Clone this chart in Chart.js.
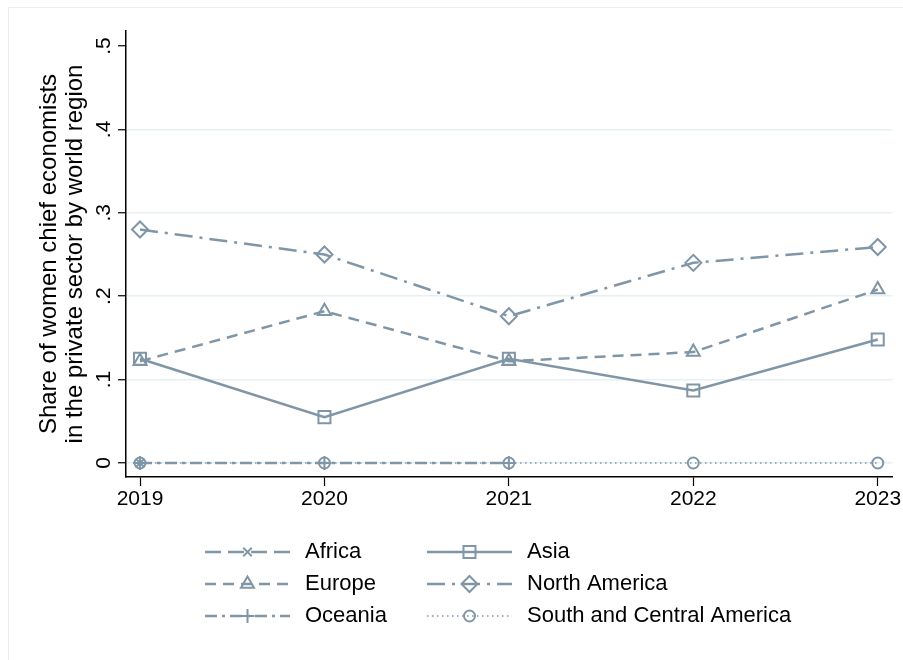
<!DOCTYPE html>
<html>
<head>
<meta charset="utf-8">
<script src="https://cdn.jsdelivr.net/npm/chart.js@4/dist/chart.umd.min.js"></script>
<style>
  html, body { margin: 0; padding: 0; background: #fff; }
  canvas { display: block; }
</style>
</head>
<body>
<canvas id="c" width="903" height="660"></canvas>
<script>
// Share of women chief economists in the private sector, by world region
const years = [2019, 2020, 2021, 2022, 2023];
const africa = [0, null, null, null, null];
const asia = [0.125, 0.055, 0.125, 0.087, 0.148];
const europe = [0.122, 0.182, 0.122, 0.133, 0.208];
const northAmerica = [0.28, 0.25, 0.176, 0.24, 0.259];
const oceania = [0, 0, 0, null, null];
const southCentralAmerica = [0, 0, 0, 0, 0];

const yTicks = [0, 0.1, 0.2, 0.3, 0.4, 0.5];
const yTickLabels = ['0', '.1', '.2', '.3', '.4', '.5'];
const yTitle = ['Share of women chief economists', 'in the private sector by world region'];

const FONT = "'Liberation Sans', Arial, Helvetica, sans-serif";
const LINE = 'rgb(128,150,166)';
const GRID = 'rgb(231,240,243)';

function points(values) {
  return years.map((x, i) => ({ x: x, y: values[i] }));
}

function series(label, values, dash, style, radius, width) {
  return {
    label: label,
    data: points(values),
    borderColor: LINE,
    borderWidth: width || 2.5,
    borderDash: dash,
    pointStyle: style,
    pointRadius: radius,
    pointHoverRadius: radius,
    pointBorderColor: LINE,
    pointBackgroundColor: 'rgba(0,0,0,0)',
    pointBorderWidth: 2,
    tension: 0,
    spanGaps: false,
    fill: false
  };
}

const datasets = [
  series('Africa', africa, [16, 7], 'crossRot', 6),
  series('Asia', asia, [], 'rect', 8.5),
  series('Europe', europe, [11, 7], 'triangle', 7.5),
  series('North America', northAmerica, [18, 7, 3, 7], 'rectRot', 8),
  series('Oceania', oceania, [12, 5, 3, 5], 'cross', 7),
  series('South and Central America', southCentralAmerica, [1.5, 3.5], 'circle', 5.5, 1.5)
];

// page background and outer frame
const framePlugin = {
  id: 'frame',
  beforeDraw(chart) {
    const ctx = chart.ctx;
    ctx.save();
    ctx.fillStyle = '#fff';
    ctx.fillRect(0, 0, chart.width, chart.height);
    ctx.strokeStyle = 'rgb(236,236,236)';
    ctx.lineWidth = 1;
    ctx.strokeRect(8.5, 7.5, 1000, 1000);
    ctx.restore();
  }
};

// two-column key under the plot: line sample, marker, label
const keyPlugin = {
  id: 'key',
  afterDraw(chart) {
    const ctx = chart.ctx;
    chart.data.datasets.forEach((ds, i) => {
      const col = i % 2;
      const row = Math.floor(i / 2);
      const x0 = col ? 427 : 205;
      const x1 = x0 + 85;
      const y = 552 + row * 32;
      ctx.save();
      ctx.strokeStyle = ds.borderColor;
      ctx.lineWidth = ds.borderWidth;
      ctx.setLineDash(ds.borderDash || []);
      ctx.beginPath();
      ctx.moveTo(x0, y);
      ctx.lineTo(x1, y);
      ctx.stroke();
      ctx.setLineDash([]);
      ctx.lineWidth = ds.pointBorderWidth;
      ctx.fillStyle = 'rgba(0,0,0,0)';
      Chart.helpers.drawPoint(ctx, {
        pointStyle: ds.pointStyle,
        radius: ds.pointRadius,
        rotation: 0,
        borderWidth: ds.pointBorderWidth
      }, (x0 + x1) / 2, y);
      ctx.fillStyle = '#000';
      ctx.font = '22px ' + FONT;
      ctx.textBaseline = 'middle';
      ctx.textAlign = 'left';
      ctx.fillText(ds.label, col ? 527 : 305, y);
      ctx.restore();
    });
  }
};

new Chart(document.getElementById('c'), {
  type: 'line',
  data: { datasets: datasets },
  plugins: [framePlugin, keyPlugin],
  options: {
    responsive: false,
    animation: false,
    devicePixelRatio: 1,
    layout: { padding: { top: 31, right: 10, left: 0, bottom: 0 } },
    plugins: {
      legend: { display: false },
      tooltip: { enabled: false }
    },
    scales: {
      x: {
        type: 'linear',
        min: 2018.924,
        max: 2023.08,
        afterBuildTicks: s => { s.ticks = years.map(v => ({ value: v })); },
        afterFit: s => { s.height = 183; s.paddingLeft = 0; s.paddingRight = 0; },
        ticks: {
          autoSkip: false,
          minRotation: 0,
          maxRotation: 0,
          padding: 1,
          color: '#000',
          font: { size: 21, family: FONT },
          callback: v => String(v)
        },
        grid: { drawOnChartArea: false, tickColor: '#000', tickLength: 9, tickWidth: 1.2 },
        border: { color: '#000', width: 1.5 }
      },
      y: {
        min: -0.0168,
        max: 0.518,
        afterBuildTicks: s => { s.ticks = yTicks.map(v => ({ value: v })); },
        afterFit: s => { s.width = 126; s.paddingTop = 0; s.paddingBottom = 0; },
        ticks: {
          minRotation: 90,
          maxRotation: 90,
          crossAlign: 'center',
          padding: 5,
          color: '#000',
          font: { size: 21, family: FONT },
          callback: (v, i) => yTickLabels[i]
        },
        grid: {
          color: c => (c.tick && c.tick.value === 0.5) ? 'rgba(0,0,0,0)' : GRID,
          lineWidth: 1.5,
          tickColor: '#000',
          tickLength: 8,
          tickWidth: 1.2
        },
        border: { color: '#000', width: 1.5 },
        title: {
          display: true,
          text: yTitle,
          color: '#000',
          font: { size: 24, family: FONT, lineHeight: 1.1 },
          padding: { top: 36, bottom: 0 }
        }
      }
    }
  }
});
</script>
</body>
</html>
